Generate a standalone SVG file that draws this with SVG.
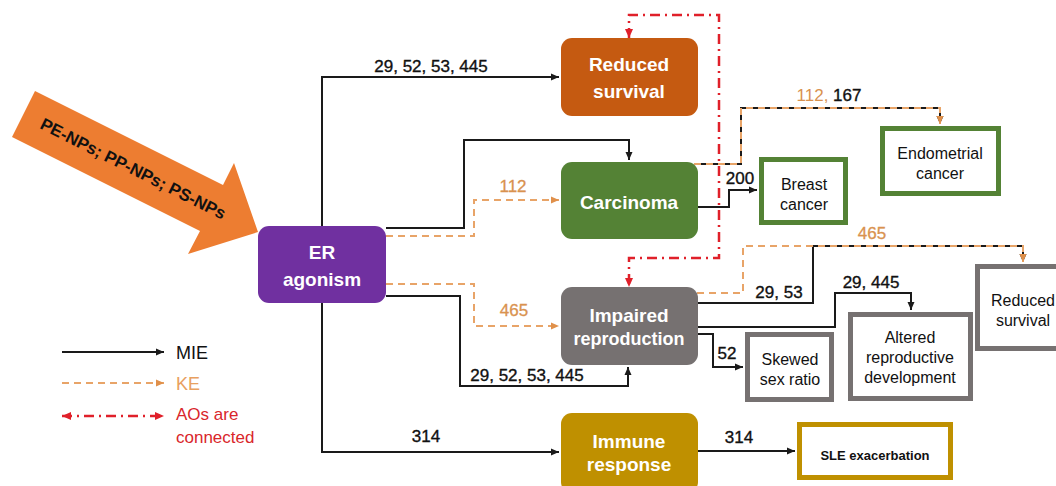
<svg xmlns="http://www.w3.org/2000/svg" width="1056" height="486" viewBox="0 0 1056 486">
<defs>
<style>
text{font-family:"Liberation Sans",Arial,sans-serif;}
.w{fill:#fff;font-weight:bold;font-size:19px;text-anchor:middle;}
.t{fill:#111;font-size:16px;text-anchor:middle;}
.n{fill:#111;font-size:17px;text-anchor:middle;stroke:#111;stroke-width:0.35;}
.o{fill:#D9924F;font-size:17px;text-anchor:middle;stroke:#D9924F;stroke-width:0.3;}
.mie{fill:none;stroke:#1a1a1a;stroke-width:2;}
.ke{fill:none;stroke:#E8A468;stroke-width:2;stroke-dasharray:7 5;}
.ao{fill:none;stroke:#E0202A;stroke-width:2.5;stroke-dasharray:10 5 2 5;}
.ob{fill:#fff;stroke-width:5;}
</style>
<marker id="ab" viewBox="0 0 8 8" refX="8" refY="4" markerWidth="8" markerHeight="8" markerUnits="userSpaceOnUse" orient="auto"><path d="M0,0.5 L8,4 L0,7.5 z" fill="#1a1a1a"/></marker>
<marker id="ao" viewBox="0 0 8 8" refX="8" refY="4" markerWidth="8" markerHeight="8" markerUnits="userSpaceOnUse" orient="auto"><path d="M0,0.5 L8,4 L0,7.5 z" fill="#E0904A"/></marker>
<marker id="ar" viewBox="0 0 9 9" refX="9" refY="4.5" markerWidth="9" markerHeight="9" markerUnits="userSpaceOnUse" orient="auto-start-reverse"><path d="M0,0.5 L9,4.5 L0,8.5 z" fill="#E0202A"/></marker>
</defs>
<rect width="1056" height="486" fill="#fff"/>

<g id="connectors">
<path class="mie" d="M322,226 L322,77 L559,77" marker-end="url(#ab)"/>
<text class="n" x="431" y="72">29, 52, 53, 445</text>
<path class="mie" d="M386,228 L464,228 L464,140 L629,140 L629,160" marker-end="url(#ab)"/>
<path class="ke" d="M386,236 L474,236 L474,200 L559,200" marker-end="url(#ao)"/>
<text class="o" x="513" y="192">112</text>
<path class="ke" d="M386,284 L474,284 L474,326 L559,326" marker-end="url(#ao)"/>
<text class="o" x="514" y="316">465</text>
<path class="mie" d="M386,296 L460,296 L460,386 L628,386 L628,367" marker-end="url(#ab)"/>
<text class="n" x="527" y="381">29, 52, 53, 445</text>
<path class="mie" d="M322,302 L322,452 L559,452" marker-end="url(#ab)"/>
<text class="n" x="426" y="442">314</text>
<path class="mie" d="M698,451 L795,451" marker-end="url(#ab)"/>
<text class="n" x="739" y="443">314</text>
<path class="mie" d="M698,207 L729,207 L729,190 L757,190" marker-end="url(#ab)"/>
<text class="n" x="740" y="184">200</text>
<path class="mie" d="M694,164 L741,164 L741,108 L940,108 L940,124" marker-end="url(#ab)"/>
<path class="ke" d="M694,164 L741,164 L741,108 L940,108 L940,124" marker-end="url(#ao)"/>
<text x="829" y="101" style="font-size:17px;text-anchor:middle"><tspan fill="#D9924F">112, </tspan><tspan fill="#111" stroke="#111" stroke-width="0.35">167</tspan></text>
<path class="mie" d="M697,303 L813,303 L813,246 L1023,246 L1023,262" marker-end="url(#ab)"/>
<path class="ke" d="M697,293 L743,293 L743,246 L1023,246 L1023,262" marker-end="url(#ao)"/>
<text class="o" x="872" y="239">465</text>
<text class="n" x="779" y="298">29, 53</text>
<path class="mie" d="M697,327 L835,327 L835,293 L911,293 L911,310" marker-end="url(#ab)"/>
<text class="n" x="871" y="288">29, 445</text>
<path class="mie" d="M697,334 L713,334 L713,367 L743,367" marker-end="url(#ab)"/>
<text class="n" x="727" y="359">52</text>
<path class="ao" d="M629,38 L629,15 L719,15 L719,258 L629,258 L629,287" marker-start="url(#ar)" marker-end="url(#ar)"/>
</g>

<g id="input-arrow">
<polygon points="35,91 223,185 234,163 258,232 188,254 200,231 12,137" fill="#ED7D31"/>
<text transform="translate(133,169) rotate(26.6)" text-anchor="middle" dominant-baseline="central" style="font-weight:bold;font-size:17px;fill:#111">PE-NPs; PP-NPs; PS-NPs</text>
</g>

<g id="er-agonism">
<rect x="258" y="226" width="128" height="77" rx="11" fill="#7030A0"/>
<text class="w" x="322" y="259">ER</text>
<text class="w" x="322" y="286">agonism</text>
</g>

<g id="reduced-survival">
<rect x="561" y="38" width="137" height="78" rx="11" fill="#C55A11"/>
<text class="w" x="629" y="71">Reduced</text>
<text class="w" x="629" y="98">survival</text>
</g>

<g id="carcinoma">
<rect x="561" y="162" width="137" height="77" rx="11" fill="#548235"/>
<text class="w" x="629" y="209">Carcinoma</text>
</g>

<g id="impaired-reproduction">
<rect x="561" y="287" width="137" height="78" rx="11" fill="#767171"/>
<text class="w" x="629" y="322">Impaired</text>
<text class="w" x="629" y="345" style="font-size:18px">reproduction</text>
</g>

<g id="immune-response">
<rect x="561" y="413" width="137" height="80" rx="11" fill="#BF9000"/>
<text class="w" x="629" y="448">Immune</text>
<text class="w" x="629" y="471">response</text>
</g>

<g id="breast-cancer">
<rect class="ob" x="761.5" y="159.5" width="84" height="63" stroke="#548235"/>
<text class="t" x="804" y="190">Breast</text>
<text class="t" x="804" y="210">cancer</text>
</g>

<g id="endometrial-cancer">
<rect class="ob" x="882.5" y="128.5" width="116" height="65" stroke="#548235"/>
<text class="t" x="940" y="159">Endometrial</text>
<text class="t" x="940" y="179">cancer</text>
</g>

<g id="skewed-sex-ratio">
<rect class="ob" x="747.5" y="334.5" width="84" height="65" stroke="#767171"/>
<text class="t" x="790" y="365">Skewed</text>
<text class="t" x="790" y="385">sex ratio</text>
</g>

<g id="altered-reproductive-development">
<rect class="ob" x="850.5" y="314.5" width="120" height="84" stroke="#767171"/>
<text class="t" x="910" y="343">Altered</text>
<text class="t" x="910" y="363">reproductive</text>
<text class="t" x="910" y="383">development</text>
</g>

<g id="reduced-survival-2">
<rect class="ob" x="977.5" y="266.5" width="100" height="82" stroke="#767171"/>
<text class="t" x="1023" y="306">Reduced</text>
<text class="t" x="1023" y="326">survival</text>
</g>

<g id="sle-exacerbation">
<rect class="ob" x="799.5" y="424.5" width="151" height="53" stroke="#BF9000"/>
<text x="875" y="460" style="font-size:13px;font-weight:bold;fill:#111;text-anchor:middle">SLE exacerbation</text>
</g>

<g id="legend">
<path class="mie" d="M62,352 L164,352" marker-end="url(#ab)"/>
<text x="176" y="359" style="font-size:18px;fill:#111">MIE</text>
<path class="ke" d="M62,383 L164,383" marker-end="url(#ao)"/>
<text x="176" y="390" style="font-size:18px;fill:#E8A060">KE</text>
<path class="ao" d="M62,416 L164,416" marker-start="url(#ar)" marker-end="url(#ar)"/>
<text x="176" y="420" style="font-size:17px;fill:#D9262B">AOs are</text>
<text x="176" y="443" style="font-size:17px;fill:#D9262B">connected</text>
</g>
</svg>
